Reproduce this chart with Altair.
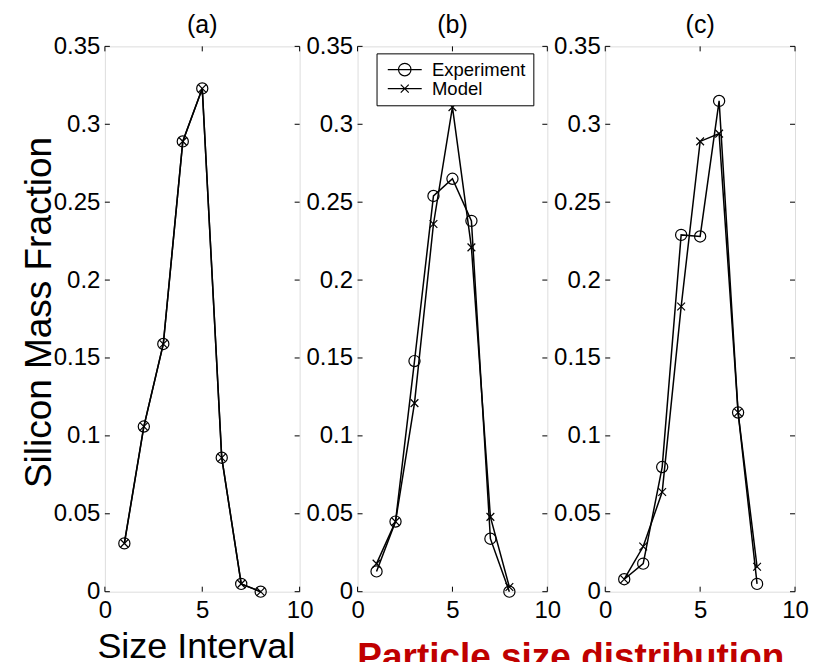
import altair as alt
import pandas as pd

# ---------------- data ----------------
intervals = [1, 2, 3, 4, 5, 6, 7, 8]

a_experiment = [0.031, 0.106, 0.159, 0.289, 0.323, 0.086, 0.005, 0.0]
a_model      = [0.031, 0.106, 0.159, 0.289, 0.323, 0.086, 0.005, 0.0]

b_experiment = [0.013, 0.045, 0.148, 0.254, 0.265, 0.238, 0.034, 0.0]
b_model      = [0.018, 0.045, 0.121, 0.236, 0.311, 0.221, 0.048, 0.003]

c_experiment = [0.008, 0.018, 0.080, 0.229, 0.228, 0.315, 0.115, 0.005]
c_model      = [0.008, 0.029, 0.064, 0.183, 0.289, 0.294, 0.115, 0.016]

y_tick_values = [0, 0.05, 0.1, 0.15, 0.2, 0.25, 0.3, 0.35]
x_tick_values = [0, 5, 10]
series_names = ["Experiment", "Model"]
panel_titles = ["(a)", "(b)", "(c)"]

# ---------------- styling ----------------
FONT = "Liberation Sans"
H = 546
WIDTHS = [195, 190, 190]
X_MARK = "M-1,-1L1,1M-1,1L1,-1"
LEG_EXP = "M-3.4,0H3.4M-1.25,0A1.25,1.25 0 1,0 1.25,0A1.25,1.25 0 1,0 -1.25,0"
LEG_MOD = "M-3.4,0H3.4M-0.8,-0.8L0.8,0.8M-0.8,0.8L0.8,-0.8"


def panel_df(exp, mod):
    return pd.DataFrame({
        "interval": intervals + intervals,
        "value": exp + mod,
        "series": [series_names[0]] * len(intervals) + [series_names[1]] * len(intervals),
    })


def make_panel(exp, mod, title, width, x_title=None, x_title_opts=None,
               y_title=None, y_title_opts=None, legend=False):
    df = panel_df(exp, mod)
    yt = pd.DataFrame({"v": y_tick_values})
    xt = pd.DataFrame({"v": x_tick_values})

    x_axis = alt.Axis(values=x_tick_values, format="d", labelFontSize=24, labelFont=FONT,
                      labelColor="black", labelPadding=7, labelFlush=False, labelOverlap=False,
                      ticks=False, domain=False, grid=False, title=x_title,
                      **(x_title_opts or {}))
    y_axis = alt.Axis(values=y_tick_values, format="~g", labelFontSize=24, labelFont=FONT,
                      labelColor="black", labelPadding=5, labelFlush=False, labelOverlap=False,
                      ticks=False, domain=False, grid=False, title=y_title,
                      **(y_title_opts or {}))
    xs = alt.Scale(domain=[0, 10], nice=False, zero=False)
    ys = alt.Scale(domain=[0, 0.35], nice=False)

    def X(f):
        return alt.X(f"{f}:Q", scale=xs, axis=x_axis)

    def Y(f):
        return alt.Y(f"{f}:Q", scale=ys, axis=y_axis)

    ytick_l = alt.Chart(yt).mark_rule(color="black", strokeWidth=1).encode(
        y=Y("v"), x=alt.value(0), x2=alt.value(5))
    ytick_r = alt.Chart(yt).mark_rule(color="black", strokeWidth=1).encode(
        y=Y("v"), x=alt.value(width - 5), x2=alt.value(width))
    xtick_b = alt.Chart(xt).mark_rule(color="black", strokeWidth=1).encode(
        x=X("v"), y=alt.value(H), y2=alt.value(H - 5))
    xtick_t = alt.Chart(xt).mark_rule(color="black", strokeWidth=1).encode(
        x=X("v"), y=alt.value(0), y2=alt.value(5))

    lines = alt.Chart(df).mark_line(color="black", strokeWidth=1.5).encode(
        x=X("interval"), y=Y("value"), detail="series:N")
    exp_pts = alt.Chart(df).transform_filter(
        alt.datum.series == series_names[0]
    ).mark_point(shape="circle", size=125, filled=False, color="black",
                 strokeWidth=1.2, opacity=1).encode(x=X("interval"), y=Y("value"))
    mod_pts = alt.Chart(df).transform_filter(
        alt.datum.series == series_names[1]
    ).mark_point(shape=X_MARK, size=60, filled=False, color="black",
                 strokeWidth=1.2, opacity=1).encode(x=X("interval"), y=Y("value"))

    layers = [ytick_l, ytick_r, xtick_b, xtick_t, lines, exp_pts, mod_pts]

    if legend:
        leg = alt.Chart(df).transform_filter("false").mark_point(
            filled=False, color="black", strokeWidth=1.2, opacity=1
        ).encode(
            x=X("interval"), y=Y("value"),
            shape=alt.Shape("series:N",
                            scale=alt.Scale(domain=series_names, range=[LEG_EXP, LEG_MOD]),
                            legend=alt.Legend(
                                title=None, orient="none", legendX=19, legendY=7,
                                padding=7, strokeColor="black", fillColor="white",
                                labelFont=FONT, labelFontSize=18.5, labelColor="black",
                                symbolSize=100, symbolStrokeWidth=1.2,
                                symbolStrokeColor="black", symbolFillColor="transparent",
                                symbolOffset=12, labelOffset=18, rowPadding=0)))
        layers.append(leg)

    return alt.layer(*layers).properties(
        width=width, height=H,
        title=alt.TitleParams(title, fontSize=25, fontWeight="normal", font=FONT,
                              color="black", anchor="middle", frame="group",
                              baseline="alphabetic", offset=-24),
    )


pa = make_panel(
    a_experiment, a_model, panel_titles[0], WIDTHS[0],
    x_title="Size Interval",
    x_title_opts=dict(titleFontSize=36, titleFont=FONT, titleFontWeight="normal",
                      titleColor="black", titleBaseline="alphabetic", titleAlign="center",
                      titleX=91, titleY=66),
    y_title="Silicon Mass Fraction",
    y_title_opts=dict(titleFontSize=37, titleFont=FONT, titleFontWeight="normal",
                      titleColor="black", titleAngle=270, titleBaseline="alphabetic",
                      titleAlign="center", titleX=-54, titleY=266),
)
pb = make_panel(b_experiment, b_model, panel_titles[1], WIDTHS[1], legend=True)
pc = make_panel(
    c_experiment, c_model, panel_titles[2], WIDTHS[2],
    x_title="Particle size distribution",
    x_title_opts=dict(titleFontSize=37, titleFont=FONT, titleFontWeight="bold",
                      titleColor="#C00000", titleBaseline="alphabetic", titleAlign="center",
                      titleX=-35, titleY=77),
)

chart = alt.hconcat(pa, pb, pc, spacing=58, bounds="flush").resolve_scale(
    shape="independent"
).resolve_legend(shape="independent").properties(
    padding={"left": 12, "top": 4, "right": 0, "bottom": 0}
).configure_view(stroke="black", strokeWidth=1.2).configure(font=FONT)

chart.save("out.html", embed_options={"renderer": "svg", "actions": False})
